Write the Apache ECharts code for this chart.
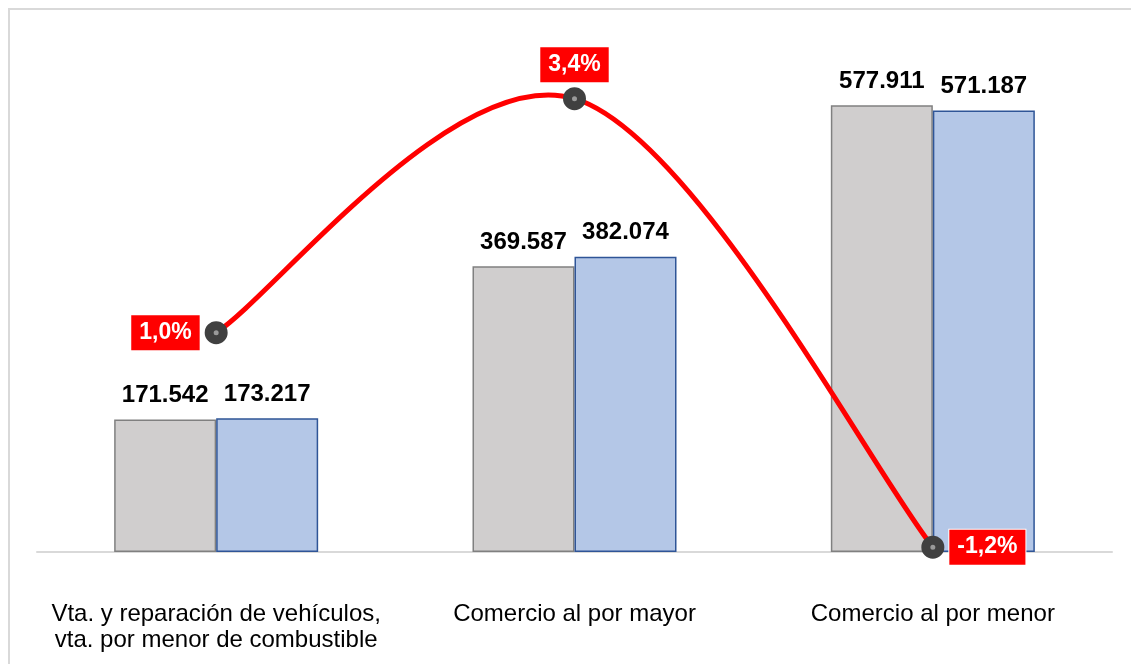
<!DOCTYPE html>
<html>
<head>
<meta charset="utf-8">
<script src="https://cdn.jsdelivr.net/npm/echarts@6/dist/echarts.min.js"></script>
<style>
  html, body { margin: 0; padding: 0; background: #fff; }
  #frame {
    position: absolute; left: 8px; top: 8px; width: 1200px; height: 700px;
    border-top: 2px solid #d9d9d9; border-left: 2px solid #d9d9d9;
  }
  #main { position: absolute; left: 0; top: 0; width: 1131px; height: 664px; }
</style>
</head>
<body>
<div id="frame"></div>
<div id="main"></div>
<script>
const categories = [
  'Vta. y reparación de vehículos,\nvta. por menor de combustible',
  'Comercio al por mayor',
  'Comercio al por menor'
];
const prevValues = [171542, 369587, 577911];
const currValues = [173217, 382074, 571187];
const changePct = [1.0, 3.4, -1.2];
const changeLabelPos = ['left', 'top', 'right'];

const fmtThousands = v => String(v).replace(/\B(?=(\d{3})+(?!\d))/g, '.');
const fmtPct = v => v.toFixed(1).replace('.', ',') + '%';

const barLabel = {
  show: true,
  position: 'top',
  distance: 12,
  color: '#000',
  fontFamily: 'Liberation Sans',
  fontWeight: 'bold',
  fontSize: 24,
  formatter: p => fmtThousands(p.value)
};

// spreadsheet-style smoothed curve (catmull-rom -> bezier) between the % points
function renderCurve(params, api) {
  const i = params.dataIndex;
  const n = changePct.length;
  if (i >= n - 1) return null;
  const pt = j => {
    j = Math.max(0, Math.min(n - 1, j));
    return api.coord([j, changePct[j]]);
  };
  const p0 = pt(i - 1), p1 = pt(i), p2 = pt(i + 1), p3 = pt(i + 2);
  return {
    type: 'bezierCurve',
    shape: {
      x1: p1[0], y1: p1[1],
      x2: p2[0], y2: p2[1],
      cpx1: p1[0] + (p2[0] - p0[0]) / 6,
      cpy1: p1[1] + (p2[1] - p0[1]) / 6,
      cpx2: p2[0] - (p3[0] - p1[0]) / 6,
      cpy2: p2[1] - (p3[1] - p1[1]) / 6
    },
    style: { stroke: '#ff0000', lineWidth: 5, fill: null, lineCap: 'round' }
  };
}

const option = {
  animation: false,
  textStyle: { fontFamily: 'Liberation Sans' },
  grid: { left: 37, right: 19, top: 11, bottom: 112 },
  xAxis: {
    type: 'category',
    data: categories,
    axisTick: { show: false },
    axisLine: { lineStyle: { color: '#d9d9d9', width: 2 } },
    axisLabel: {
      color: '#000',
      fontSize: 24,
      lineHeight: 26,
      margin: 49,
      interval: 0
    }
  },
  yAxis: [
    { type: 'value', min: 0, max: 700000, show: false, splitLine: { show: false } },
    { type: 'value', min: -1.25, max: 4.3, show: false, splitLine: { show: false } }
  ],
  series: [
    {
      type: 'bar',
      data: prevValues,
      barWidth: 102,
      barGap: '0%',
      itemStyle: { color: '#d0cece', borderColor: '#808080', borderWidth: 1.5 },
      label: barLabel
    },
    {
      type: 'bar',
      data: currValues,
      barWidth: 102,
      barGap: '0%',
      itemStyle: { color: '#b4c7e7', borderColor: '#2f5597', borderWidth: 1.5 },
      label: barLabel
    },
    {
      type: 'custom',
      yAxisIndex: 1,
      z: 4,
      data: changePct.map((v, i) => [i, v]),
      renderItem: renderCurve
    },
    {
      type: 'line',
      yAxisIndex: 1,
      z: 5,
      data: changePct.map((v, i) => ({
        value: v,
        label: { position: changeLabelPos[i] }
      })),
      symbol: 'circle',
      symbolSize: 14,
      lineStyle: { width: 0, opacity: 0 },
      itemStyle: { color: '#9a9a9a', borderColor: '#404040', borderWidth: 9 },
      label: {
        show: true,
        distance: 5,
        color: '#fff',
        fontWeight: 'bold',
        fontSize: 23,
        lineHeight: 23,
        backgroundColor: '#ff0000',
        borderColor: '#fff',
        borderWidth: 1,
        padding: [6, 8],
        formatter: p => fmtPct(p.value)
      }
    }
  ]
};

const chart = echarts.init(document.getElementById('main'));
chart.setOption(option);
</script>
</body>
</html>
